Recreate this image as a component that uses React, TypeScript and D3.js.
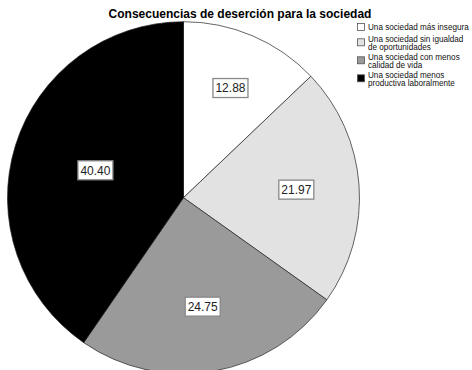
import React from "react";
import * as d3 from "d3";

const categories = [
  "Una sociedad más insegura",
  "Una sociedad sin igualdad de oportunidades",
  "Una sociedad con menos calidad de vida",
  "Una sociedad menos productiva laboralmente",
];
const legendLines = [
  ["Una sociedad más insegura"],
  ["Una sociedad sin igualdad", "de oportunidades"],
  ["Una sociedad con menos", "calidad de vida"],
  ["Una sociedad menos", "productiva laboralmente"],
];
const values = [12.88, 21.97, 24.75, 40.4];
const colors = ["#ffffff", "#e2e2e2", "#9a9a9a", "#000000"];
const title = "Consecuencias de deserción para la sociedad";

const W = 472;
const H = 370;
const cx = 183.5;
const cy = 197.7;
const R = 176;

export default function App() {
  const pie = d3.pie<number>().sort(null).value((d) => d);
  const arcs = pie(values);
  const arc = d3.arc<d3.PieArcDatum<number>>().innerRadius(0).outerRadius(R);
  const font = "Arial, 'Liberation Sans', sans-serif";

  const labelPos = (a: d3.PieArcDatum<number>) => {
    const half = (a.endAngle - a.startAngle) / 2;
    const mid = a.startAngle + half;
    const dist = (2 * R * 1.045 * Math.sin(half)) / (3 * half);
    return [Math.sin(mid) * dist, -Math.cos(mid) * dist];
  };

  const LH = 8;
  let lc = 26.7;
  const legendRows = legendLines.map((lines, i) => {
    const c0 = lc;
    lc += Math.max(lines.length * LH, 10) + 2;
    return { lines, c0, i };
  });

  return (
    <svg width={W} height={H} style={{ position: "absolute", left: 0, top: 0, background: "#fff" }}>
      <text x={240} y={18} textAnchor="middle" fontFamily={font} fontWeight="bold" fontSize={12}>
        {title}
      </text>
      <g transform={`translate(${cx},${cy})`}>
        {arcs.map((a, i) => (
          <path key={i} d={arc(a) || ""} fill={colors[i]} stroke="#222" strokeWidth={0.7} />
        ))}
        {arcs.map((a, i) => {
          const [x, y] = labelPos(a);
          const txt = values[i].toFixed(2);
          return (
            <g key={"l" + i} transform={`translate(${x},${y})`}>
              <rect x={-17.5} y={-9.5} width={35} height={19} fill="#fff" stroke="#888" strokeWidth={1.3} />
              <text x={0} y={4.3} textAnchor="middle" fontFamily={font} fontSize={12} fill="#222">
                {txt}
              </text>
            </g>
          );
        })}
      </g>
      <g>
        {legendRows.map(({ lines, c0, i }) => {
          const mid = c0 + ((lines.length - 1) * LH) / 2 - (lines.length > 1 ? 0.6 : 0);
          return (
            <g key={"g" + i}>
              <rect
                x={357.5}
                y={mid - 3.3}
                width={7}
                height={7}
                fill={colors[i]}
                stroke="#555"
                strokeWidth={0.8}
              />
              {lines.map((t, j) => (
                <text key={j} x={368} y={c0 + 2.9 + j * LH} fontFamily={font} fontSize={8.15} fill="#111">
                  {t}
                </text>
              ))}
            </g>
          );
        })}
      </g>
    </svg>
  );
}
